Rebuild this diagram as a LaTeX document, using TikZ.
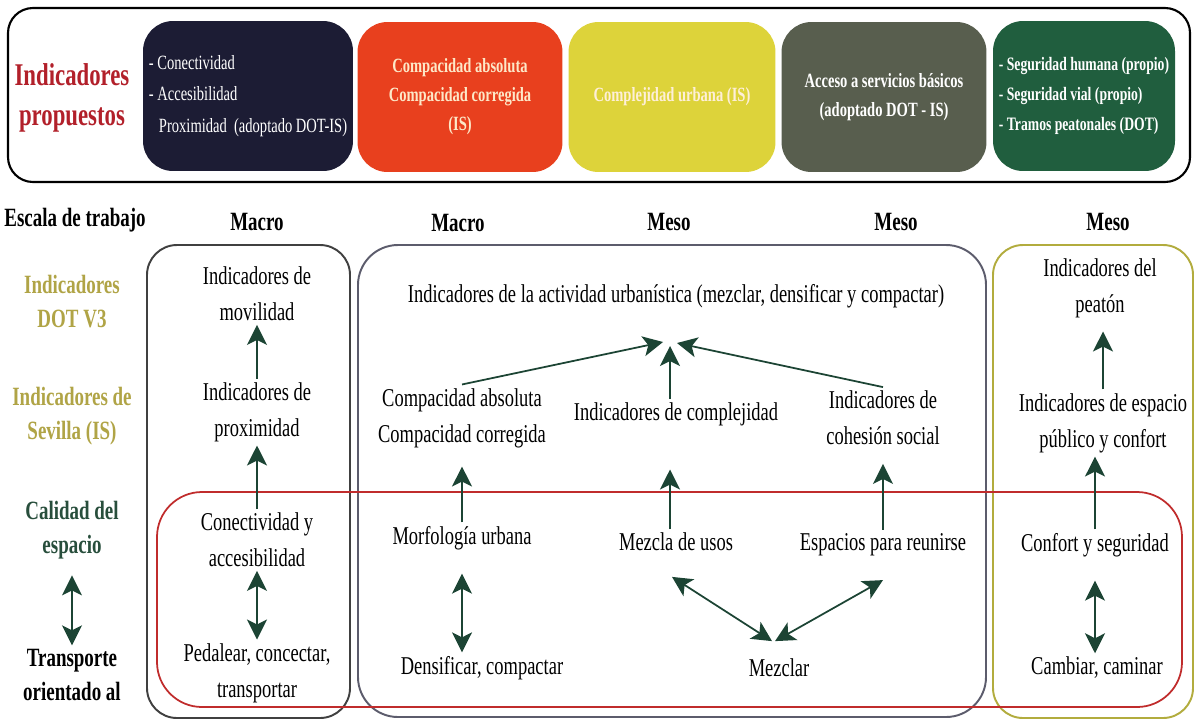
\documentclass[tikz,border=0pt]{standalone}
\usepackage{fontspec}
\setmainfont{Liberation Serif}[FakeStretch=0.72]
\usetikzlibrary{arrows.meta}

\definecolor{rojoprop}{RGB}{178,32,42}
\definecolor{azulosc}{RGB}{28,28,52}
\definecolor{naranja}{RGB}{232,64,30}
\definecolor{amarillo}{RGB}{221,211,58}
\definecolor{grisoliva}{RGB}{88,94,78}
\definecolor{verdecaja}{RGB}{32,94,62}
\definecolor{crema}{RGB}{253,232,200}
\definecolor{caqui}{RGB}{176,164,70}
\definecolor{verdeosc}{RGB}{40,78,60}
\definecolor{flechaverde}{RGB}{28,68,52}
\definecolor{grismeso}{RGB}{92,92,108}
\definecolor{oliva}{RGB}{178,172,62}
\definecolor{rojomarco}{RGB}{192,44,44}

\tikzset{>={Stealth[length=4mm,width=4mm,inset=1mm]},
  caja/.style={rounded corners=0.6cm, minimum height=3cm, text=white,
    font=\bfseries\fontsize{11.5}{16.5}\selectfont, align=center},
  txt/.style={font=\fontsize{14.6}{20.5}\selectfont, align=center, inner sep=2pt},
  hdr/.style={font=\bfseries\fontsize{15}{19.4}\selectfont, align=center, inner sep=2pt},
  flecha/.style={->, draw=flechaverde, line width=1pt},
  dflecha/.style={<->, draw=flechaverde, line width=1pt}}

\begin{document}
\begin{tikzpicture}[x=0.02cm, y=-0.02cm]
    \useasboundingbox (0,0) rectangle (1196,721);
    % indicadores propuestos
    \draw[line width=1.2pt, rounded corners=0.5cm] (8,8) rectangle (1190,182);
    \node[hdr, text=rojoprop, font=\bfseries\fontsize{18}{22.8}\selectfont] (prop) at (72,98) {Indicadores\\propuestos};
    \node[caja, fill=azulosc, minimum width=4.14cm, align=left, font=\fontsize{11.5}{17.9}\selectfont] (conect) at (248,96)
        {- Conectividad\\- Accesibilidad\\\hspace*{0.5em}Proximidad~~(adoptado DOT-IS)};
    \node[caja, fill=naranja, minimum width=4.1cm, text=crema] (compacid) at (460,97)
        {Compacidad absoluta\\Compacidad corregida\\(IS)};
    \node[caja, fill=amarillo, minimum width=4.14cm, text=crema!70!white] (complej) at (672,97)
        {Complejidad urbana (IS)};
    \node[caja, fill=grisoliva, minimum width=4.1cm] (acceso) at (884,97)
        {Acceso a servicios básicos\\(adoptado DOT - IS)};
    \node[caja, fill=verdecaja, minimum width=3.64cm, align=left, font=\bfseries\fontsize{10.8}{17}\selectfont] (segur) at (1084,96)
        {- Seguridad humana (propio)\\- Seguridad vial (propio)\\- Tramos peatonales (DOT)};

    % escalas
    \node[hdr] (escala) at (75,220) {Escala de trabajo};
    \node[hdr] (macroA) at (257,222) {Macro};
    \node[hdr] (macroB) at (458,223) {Macro};
    \node[hdr] (mesoA) at (669,222) {Meso};
    \node[hdr] (mesoB) at (896,222) {Meso};
    \node[hdr] (mesoC) at (1108,222) {Meso};

    % filas
    \node[hdr, text=caqui] (dot) at (72,302) {Indicadores\\DOT V3};
    \node[hdr, text=caqui] (sevilla) at (72,416) {Indicadores de\\Sevilla (IS)};
    \node[hdr, text=verdeosc] (calidad) at (72,530) {Calidad del\\espacio};
    \node[hdr] (tod) at (72,675) {Transporte\\orientado al};
    \draw[dflecha, shorten <=0.25cm] (calidad) -- (tod);

    % marcos
    \draw[line width=1.1pt, draw=black!75, rounded corners=0.6cm] (147,245) rectangle (350,718);
    \draw[line width=1.1pt, draw=grismeso, rounded corners=0.8cm] (358,245) rectangle (986,717);
    \draw[line width=1.1pt, draw=oliva, rounded corners=0.6cm] (993,245) rectangle (1193,718);
    \draw[line width=1pt, draw=rojomarco, rounded corners=0.9cm] (157,492) rectangle (1182,707);

    % macro
    \node[txt] (movil) at (257,294) {Indicadores de\\movilidad};
    \node[txt] (proxi) at (257,412) {Indicadores de\\proximidad};
    \node[txt] (conac) at (257,540) {Conectividad y\\accesibilidad};
    \node[txt] (pedal) at (257,673) {Pedalear, concectar,\\transportar};
    \draw[flecha] (proxi) -- (movil);
    \draw[flecha] (conac) -- (proxi);
    \draw[dflecha] (conac) -- (pedal);

    % meso
    \node[txt] (activ) at (676,296) {Indicadores de la actividad urbanística (mezclar, densificar y compactar)};
    \node[txt] (compa) at (462,418) {Compacidad absoluta\\Compacidad corregida};
    \node[txt] (compl) at (676,414) {Indicadores de complejidad};
    \node[txt] (cohes) at (883,418) {Indicadores de\\cohesión social};
    \coordinate (hubL) at (663,342);
    \coordinate (hubM) at (670,346);
    \coordinate (hubR) at (677,343);
    \draw[flecha] (compa.north) -- (hubL);
    \draw[flecha] (compl.north -| hubM) -- (hubM);
    \draw[flecha] (cohes.north) -- (hubR);

    \node[txt] (morfo) at (462,538) {Morfología urbana};
    \node[txt] (usos) at (676,542) {Mezcla de usos};
    \node[txt] (reun) at (883,545) {Espacios para reunirse};
    \node[txt] (densi) at (482,668) {Densificar, compactar};
    \node[txt] (mezc) at (779,668) {Mezclar};
    \draw[flecha, shorten >=0.3cm] (morfo.north) -- (morfo.north |- compa.south);
    \draw[flecha, shorten >=0.8cm] (usos.north -| hubM) -- (compl.south -| hubM);
    \draw[flecha, shorten >=0.3cm] (reun.north) -- (reun.north |- cohes.south);
    \draw[dflecha, shorten <=0.4cm] (morfo.south) -- (morfo.south |- densi.north);
    \draw[dflecha] ([shift={(-0.08cm,-0.44cm)}]usos.south) -- ([shift={(-0.14cm,0.28cm)}]mezc.north);
    \draw[dflecha] ([shift={(0cm,-0.4cm)}]reun.south) -- ([shift={(-0.08cm,0.28cm)}]mezc.north);

    % peaton
    \node[txt] (peat) at (1100,288) {Indicadores del\\peatón};
    \node[txt] (espub) at (1103,423) {Indicadores de espacio\\público y confort};
    \node[txt] (confo) at (1095,545) {Confort y seguridad};
    \node[txt] (camb) at (1097,668) {Cambiar, caminar};
    \draw[flecha, shorten >=0.2cm] (espub.north) -- (espub.north |- peat.south);
    \draw[flecha] (confo.north) -- (confo.north |- espub.south);
    \draw[dflecha, shorten <=0.4cm] (confo.south) -- (confo.south |- camb.north);
\end{tikzpicture}
\end{document}
